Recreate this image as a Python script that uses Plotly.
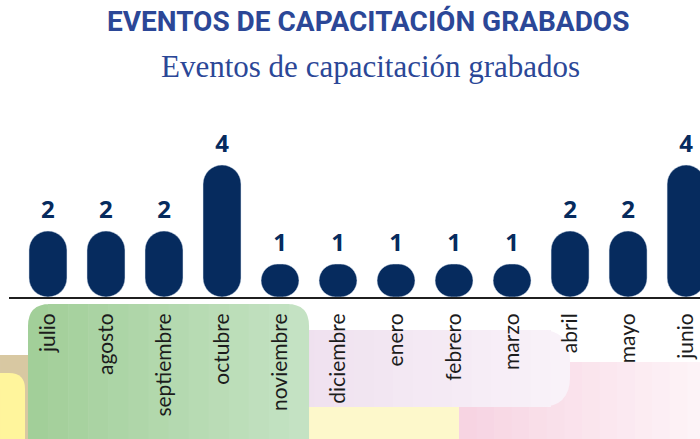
"""Eventos de capacitación grabados - monthly bar chart."""

import plotly.graph_objects as go

months = ["julio", "agosto", "septiembre", "octubre", "noviembre", "diciembre",
          "enero", "febrero", "marzo", "abril", "mayo", "junio"]
events = [2, 2, 2, 4, 1, 1, 1, 1, 1, 2, 2, 4]

NAVY = "#062b5e"
BLUE = "#2b4797"

# plot area in pixels (used to place the decorative background blocks)
L, T, W, H = 9, 132, 691, 165


def px(x):
    return (x - L) / W


def py(y):
    return (T + H - y) / H


def rrect(x0, y0, x1, y1, radii):
    """Rounded rectangle path (pixel coords in, paper coords out)."""
    tl, tr, br, bl = radii
    pts = [
        ("M", [(x0 + tl, y0)]),
        ("L", [(x1 - tr, y0)]),
        ("Q", [(x1, y0), (x1, y0 + tr)]),
        ("L", [(x1, y1 - br)]),
        ("Q", [(x1, y1), (x1 - br, y1)]),
        ("L", [(x0 + bl, y1)]),
        ("Q", [(x0, y1), (x0, y1 - bl)]),
        ("L", [(x0, y0 + tl)]),
        ("Q", [(x0, y0), (x0 + tl, y0)]),
    ]
    path = ""
    for cmd, coords in pts:
        path += cmd + " ".join(f"{px(a):.4f},{py(b):.4f}" for a, b in coords) + " "
    return path + "Z"


def block(x0, y0, x1, y1, color, radii=(0, 0, 0, 0)):
    return dict(type="path", xref="paper", yref="paper", layer="below",
                path=rrect(x0, y0, x1, y1, radii), fillcolor=color,
                line={"width": 0})


def mix(c0, c1, t):
    a = [int(c0[i:i + 2], 16) for i in (1, 3, 5)]
    b = [int(c1[i:i + 2], 16) for i in (1, 3, 5)]
    return "#" + "".join(f"{round(p + (q - p) * t):02x}" for p, q in zip(a, b))


def gradient_block(x0, y0, x1, y1, c0, c1, radii=(0, 0, 0, 0), n=14):
    """Left-to-right colour fade built from thin vertical strips."""
    tl, tr, br, bl = radii
    step = (x1 - x0) / n
    out = []
    for i in range(n):
        r = (tl if i == 0 else 0, tr if i == n - 1 else 0,
             br if i == n - 1 else 0, bl if i == 0 else 0)
        sx1 = x0 + step * (i + 1) + (0 if i == n - 1 else 0.6)
        out.append(block(x0 + step * i, y0, sx1, y1, mix(c0, c1, i / (n - 1)), r))
    return out


fig = go.Figure()
# pill-shaped bars: an explicit base makes plotly round both ends
fig.add_trace(go.Bar(x=months, y=events, base=[0] * len(events),
                     marker={"color": NAVY, "cornerradius": "50%"},
                     width=0.655, hoverinfo="skip"))
# value labels
fig.add_trace(go.Scatter(
    x=months, y=[v + 0.22 for v in events], mode="text", text=events,
    texttemplate="<b>%{text}</b>", textposition="top center",
    textfont={"family": "Open Sans", "size": 24, "color": NAVY},
    cliponaxis=False, hoverinfo="skip",
))

shapes = [
    block(0, 355, 30, 445, "#d8c8a2"),
    block(0, 373, 25, 445, "#fff59c", (0, 16, 0, 0)),
    *gradient_block(459, 362, 705, 445, "#f7d4e2", "#fdf3f7"),
    block(295, 407, 459, 445, "#fdf8cb"),
    *gradient_block(295, 330, 570, 407, "#efe1ef", "#f9f2f9", (0, 30, 30, 0)),
    *gradient_block(28, 304, 309, 450, "#a2cf99", "#c4e2c3", (22, 22, 0, 0)),
]

fig.update_layout(
    width=700, height=439,
    margin={"l": L, "r": 0, "t": T, "b": 439 - T - H},
    paper_bgcolor="white", plot_bgcolor="rgba(0,0,0,0)",
    showlegend=False,
    shapes=shapes,
    xaxis={
        "range": [-0.672, 11.24], "showline": True, "linecolor": "#1f1f1f",
        "linewidth": 2, "showgrid": False, "ticks": "", "tickangle": -90,
        "ticklabelstandoff": 6,
        "tickfont": {"family": "Lato", "size": 21, "color": "#1c1c1c"},
    },
    yaxis={"range": [0, 5], "visible": False, "showgrid": False},
    annotations=[
        dict(text="<b>EVENTOS DE CAPACITACIÓN GRABADOS</b>", xref="paper", yref="paper",
             x=px(368), y=py(22), xanchor="center", yanchor="middle", showarrow=False,
             font={"family": "Roboto", "size": 28, "color": BLUE}),
        dict(text="Eventos de capacitación grabados", xref="paper", yref="paper",
             x=px(371), y=py(66), xanchor="center", yanchor="middle", showarrow=False,
             font={"family": "Liberation Serif", "size": 31, "color": BLUE}),
    ],
)

# page margin would offset the figure; keep it flush with the window
fig.write_html("out.html", config={"displayModeBar": False},
               post_script="document.body.style.margin='0';")
